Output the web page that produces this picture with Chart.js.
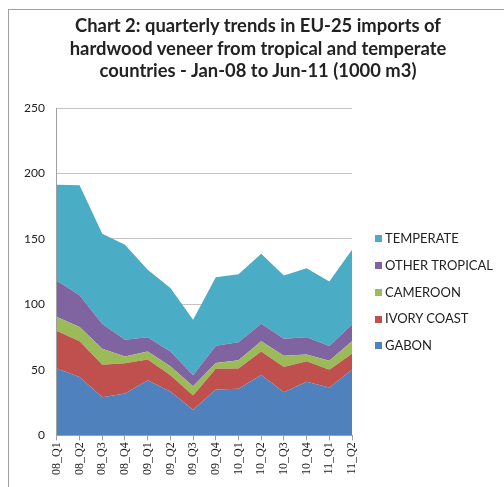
<!DOCTYPE html>
<html>
<head>
<meta charset="utf-8">
<script src="https://cdn.jsdelivr.net/npm/chart.js@4"></script>
<style>
    html, body { margin: 0; padding: 0; background: #fff; overflow: hidden; }
    #frame {
        position: absolute; left: 8px; top: 9px; width: 520px; height: 520px;
        border: 1px solid #a0a0a0; box-sizing: border-box;
    }
    #wrap { position: absolute; left: 0; top: 0; width: 504px; height: 487px; }
    #title {
        position: absolute; left: 58px; top: 14px; width: 400px; text-align: center;
        font-family: Lato, sans-serif; font-weight: bold; font-size: 18.4px;
        line-height: 22.5px; color: #222; white-space: nowrap;
    }
    #legend {
        position: absolute; left: 375px; top: 225px; margin: 0; padding: 0;
        list-style: none; font-family: Lato, sans-serif; font-size: 13px; color: #222;
    }
    #legend li { height: 26.8px; line-height: 26.8px; white-space: nowrap; }
    #legend span {
        display: inline-block; width: 7px; height: 7px; margin-right: 3px;
        vertical-align: middle; position: relative; top: -1px;
    }
</style>
</head>
<body>
<div id="frame"></div>
<div id="wrap"><canvas id="veneerChart"></canvas></div>
<div id="title"></div>
<ul id="legend"></ul>
<script>
// quarters, Jan-08 to Jun-11
const quarters = ['08_Q1', '08_Q2', '08_Q3', '08_Q4', '09_Q1', '09_Q2', '09_Q3',
    '09_Q4', '10_Q1', '10_Q2', '10_Q3', '10_Q4', '11_Q1', '11_Q2'];

// 1000 m3
const gabon = [51, 44.5, 29, 32, 42, 33.5, 19.5, 35, 35.5, 46, 33, 41, 36.5, 50];
const ivoryCoast = [28.6, 27.3, 25, 23, 16, 12.3, 11, 15.9, 15.5, 18.1, 19.2, 15.5, 13.6, 12.4];
const cameroon = [10.7, 10.9, 12.2, 5.3, 6.1, 6.9, 6.9, 4.3, 6.3, 7.7, 8.6, 5.3, 6.9, 9.4];
const otherTropical = [27.7, 24.3, 18.8, 12.7, 10.9, 11.3, 8.4, 13.3, 13.7, 13.5, 13, 13.2, 11.2, 12.9];
const temperate = [73.4, 84, 69, 72.6, 51.5, 48.5, 42.5, 52.3, 52, 53.4, 48.2, 52.7, 49.3, 57];

const yTicks = [0, 50, 100, 150, 200, 250];

const titleLines = ['Chart 2: quarterly trends in EU-25 imports of',
    'hardwood veneer from tropical and temperate',
    'countries - Jan-08 to Jun-11 (1000 m3)'];

function area(label, data, color, fillTarget) {
    return {
        label: label,
        data: data,
        backgroundColor: color,
        borderColor: color,
        borderWidth: 0,
        pointRadius: 0,
        tension: 0,
        fill: fillTarget
    };
}

document.getElementById('title').innerHTML = titleLines.join('<br>');

const ctx = document.getElementById('veneerChart').getContext('2d');

const chart = new Chart(ctx, {
    type: 'line',
    data: {
        labels: quarters,
        datasets: [
            area('GABON', gabon, '#4f81bd', 'origin'),
            area('IVORY COAST', ivoryCoast, '#c0504d', '-1'),
            area('CAMEROON', cameroon, '#9bbb59', '-1'),
            area('OTHER TROPICAL', otherTropical, '#8064a2', '-1'),
            area('TEMPERATE', temperate, '#4bacc6', '-1')
        ]
    },
    options: {
        responsive: true,
        maintainAspectRatio: false,
        animation: false,
        layout: { padding: { left: 12, right: 152, top: 108, bottom: 10 } },
        scales: {
            x: {
                offset: false,
                grid: { drawOnChartArea: false, drawTicks: true, tickLength: 5, color: '#a0a0a0' },
                border: { color: '#a0a0a0' },
                ticks: {
                    minRotation: 90, maxRotation: 90, autoSkip: false,
                    color: '#222', padding: 2,
                    font: { family: 'Liberation Serif', size: 12 }
                }
            },
            y: {
                stacked: true,
                min: 0,
                max: 250,
                afterBuildTicks: function (axis) {
                    axis.ticks = yTicks.map(v => ({ value: v }));
                },
                grid: { color: '#c4c4c4', drawTicks: false },
                border: { color: '#a0a0a0' },
                ticks: {
                    color: '#222', padding: 12,
                    font: { family: 'Lato', size: 12 }
                }
            }
        },
        plugins: {
            title: { display: false },
            legend: { display: false },
            tooltip: { enabled: false }
        }
    }
});

// legend, top item = top of the stack
const legendList = document.getElementById('legend');
chart.data.datasets.slice().reverse().forEach(ds => {
    const li = document.createElement('li');
    const box = document.createElement('span');
    box.style.background = ds.backgroundColor;
    li.appendChild(box);
    li.appendChild(document.createTextNode(ds.label));
    legendList.appendChild(li);
});
</script>
</body>
</html>
